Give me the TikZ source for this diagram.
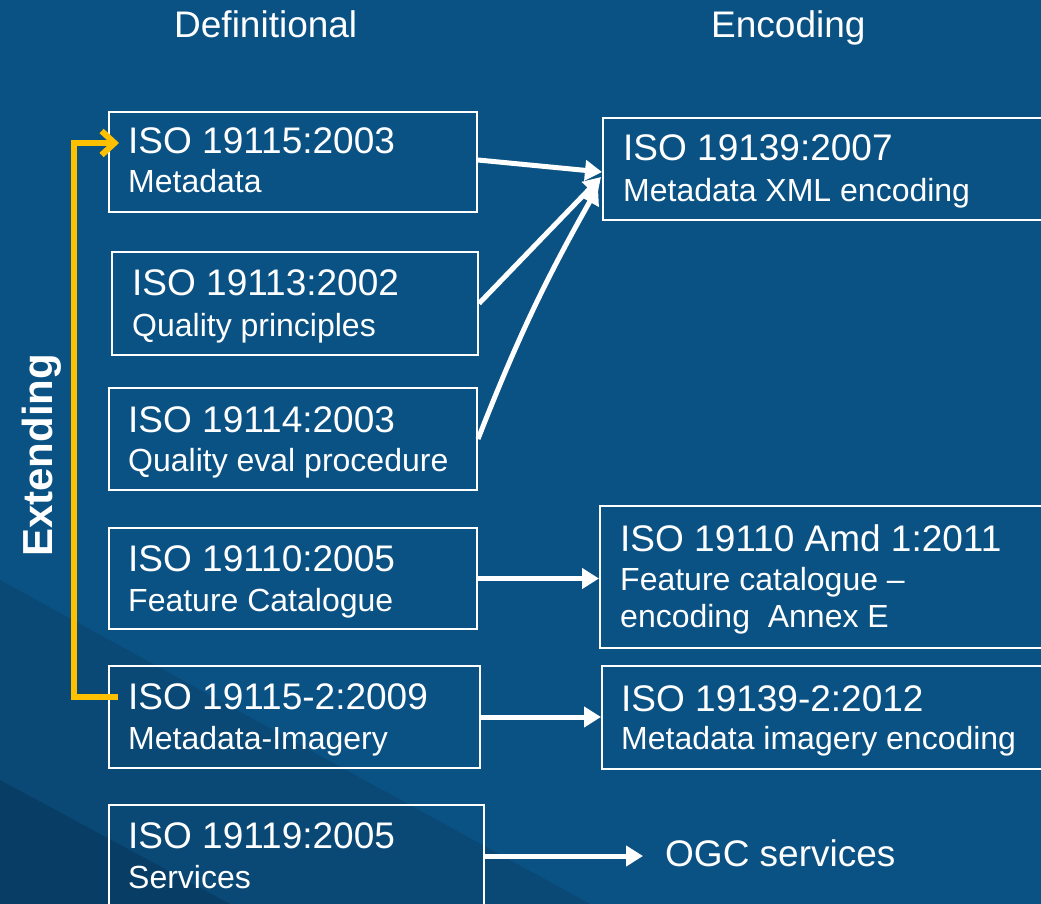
\documentclass[tikz,border=0pt]{standalone}
\usepackage{fontspec}
\setmainfont{Liberation Sans}
\usetikzlibrary{arrows.meta,calc}
\definecolor{bgblue}{RGB}{11,82,132}
\definecolor{bgdark}{RGB}{10,72,117}
\definecolor{bgdarker}{RGB}{8,62,102}
\definecolor{extyellow}{RGB}{255,192,0}
\begin{document}
\begin{tikzpicture}[x=1pt,y=-1pt,
  box/.style={draw=white, line width=2pt, inner sep=0pt},
  title/.style={anchor=base west, inner sep=0pt, text=white, font=\fontsize{37}{40}\selectfont},
  sub/.style={anchor=base west, inner sep=0pt, text=white, font=\fontsize{32}{38}\selectfont},
  head/.style={anchor=base west, inner sep=0pt, text=white, font=\fontsize{37}{40}\selectfont},
  flow/.style={draw=white, line width=5pt, -{Triangle[length=17pt,width=20pt]}},
  extend/.style={draw=extyellow, line width=6pt, -{Straight Barb[length=13pt,width=24pt]}}
]
\useasboundingbox (0,0) rectangle (1041,904);
\clip (0,0) rectangle (1041,904);
\fill[bgblue] (0,0) rectangle (1041,904);
\fill[bgdark] (0,580) -- (590,904) -- (0,904) -- cycle;
\fill[bgdarker] (0,780) -- (230,904) -- (0,904) -- cycle;

% headings
\node[head] (hdef) at (174,38) {Definitional};
\node[head] (henc) at (711,38) {Encoding};
\node[anchor=base west, inner sep=0pt, text=white, rotate=90,
      font=\fontsize{42}{44}\selectfont\bfseries] (hext) at (52,557) {Extending};

% left boxes
\node[box, minimum width=368pt, minimum height=100pt] (A) at (293,162) {};
\node[box, minimum width=366pt, minimum height=103pt] (B) at (295,303.5) {};
\node[box, minimum width=368pt, minimum height=102pt] (C) at (293,439) {};
\node[box, minimum width=368pt, minimum height=101pt] (D) at (293,578.5) {};
\node[box, minimum width=371pt, minimum height=102pt] (E) at (294.5,717) {};
\node[box, minimum width=375pt, minimum height=102pt] (F) at (296.5,856) {};
% right boxes
\node[box, minimum width=447pt, minimum height=102pt] (G) at (826.5,169) {};
\node[box, minimum width=450pt, minimum height=142pt] (H) at (825,577) {};
\node[box, minimum width=448pt, minimum height=103pt] (I) at (826,717.5) {};

% texts
\node[title] (At) at ($(A.north west)+(20,43)$) {ISO 19115:2003};
\node[sub]   (As) at ($(A.north west)+(20,82)$) {Metadata};
\node[title] (Bt) at ($(B.north west)+(21,44)$) {ISO 19113:2002};
\node[sub]   (Bs) at ($(B.north west)+(21,85)$) {Quality principles};
\node[title] (Ct) at ($(C.north west)+(20,45)$) {ISO 19114:2003};
\node[sub]   (Cs) at ($(C.north west)+(20,84)$) {Quality eval procedure};
\node[title] (Dt) at ($(D.north west)+(20,44)$) {ISO 19110:2005};
\node[sub]   (Ds) at ($(D.north west)+(20,84)$) {Feature Catalogue};
\node[title] (Et) at ($(E.north west)+(20,44)$) {ISO 19115-2:2009};
\node[sub]   (Es) at ($(E.north west)+(20,84)$) {Metadata-Imagery};
\node[title] (Ft) at ($(F.north west)+(20,44)$) {ISO 19119:2005};
\node[sub]   (Fs) at ($(F.north west)+(20,84)$) {Services};
\node[title] (Gt) at ($(G.north west)+(21,44)$) {ISO 19139:2007};
\node[sub]   (Gs) at ($(G.north west)+(21,85)$) {Metadata XML encoding};
\node[title] (Ht) at ($(H.north west)+(21,46)$) {ISO 19110 Amd 1:2011};
\node[sub]   (Hs) at ($(H.north west)+(21,85)$) {Feature catalogue –};
\node[sub]   (Hs2) at ($(H.north west)+(21,122)$) {encoding\ \ Annex E};
\node[title] (It) at ($(I.north west)+(20,46)$) {ISO 19139-2:2012};
\node[sub]   (Is) at ($(I.north west)+(20,84)$) {Metadata imagery encoding};
\node[title] (ogc) at (665,866) {OGC services};

% connectors
\draw[flow] ($(A.east)+(0,-2)$) -- ($(G.west)+(0,3)$);
\draw[flow] (B.east) -- ($(G.west)+(-1,8)$);
\draw[flow] (C.east) to[bend left=4] ($(G.west)+(-4,18)$);
\draw[flow] (D.east) -- (H.west |- D.east);
\draw[flow] (E.east) -- (I.west |- E.east);
\draw[flow] (F.east) -- ($(ogc.west |- F.east)+(-22,0)$);

% extending bracket
\coordinate (extc) at (74,143);
\draw[extend] ($(E.west)+(10,-20)$) -| (extc) -- ($(A.west)+(11,-19)$);
\end{tikzpicture}
\end{document}
